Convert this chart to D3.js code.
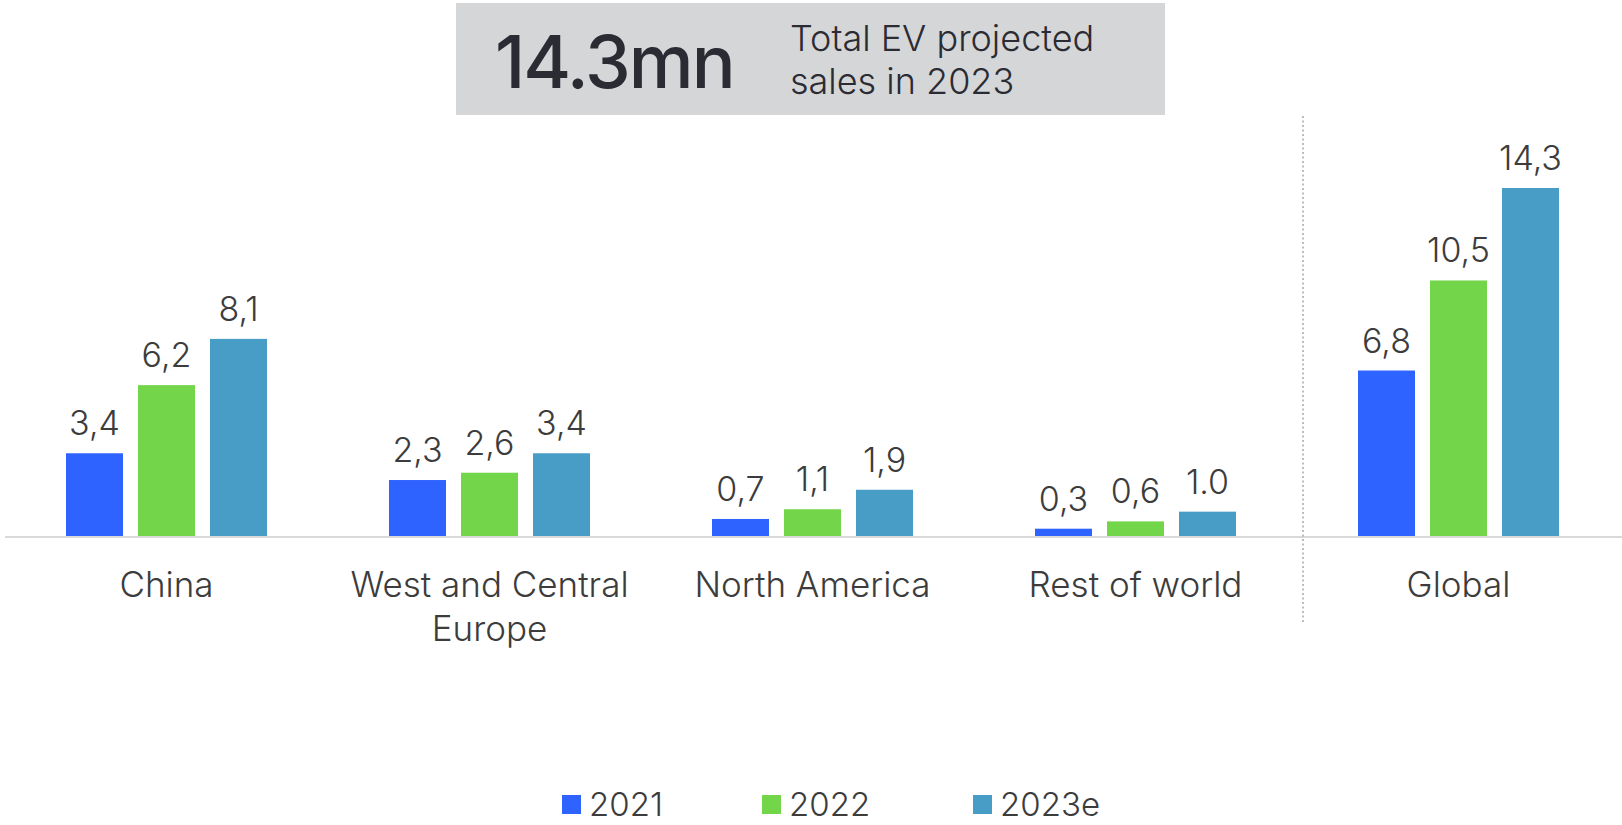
<!DOCTYPE html>
<html><head><meta charset="utf-8">
<script src="https://cdn.jsdelivr.net/npm/d3@7"></script>
<style>
html,body{margin:0;padding:0;background:#fff;}
svg{display:block;font-family:Inter,"Open Sans",sans-serif;}
</style></head>
<body><svg id="c" width="1622" height="825"></svg>
<script>
const categories = ["China", "West and Central|Europe", "North America", "Rest of world", "Global"];
const seriesNames = ["2021", "2022", "2023e"];
const values2021 = [3.4, 2.3, 0.7, 0.3, 6.8];
const values2022 = [6.2, 2.6, 1.1, 0.6, 10.5];
const values2023 = [8.1, 3.4, 1.9, 1.0, 14.3];
const labels2021 = ["3,4", "2,3", "0,7", "0,3", "6,8"];
const labels2022 = ["6,2", "2,6", "1,1", "0,6", "10,5"];
const labels2023 = ["8,1", "3,4", "1,9", "1.0", "14,3"];
const colors = ["#2f63ff", "#73d64a", "#489dc6"];
const headline = "14.3mn";
const headlineSub = ["Total EV projected", "sales in 2023"];

const series = [values2021, values2022, values2023];
const seriesLabels = [labels2021, labels2022, labels2023];

const svg = d3.select("#c");
const baseY = 536;
const groupW = 201;
const x0 = d3.scaleBand().domain(categories).range([5, 1620]).paddingInner(0).paddingOuter(0);
const x1 = d3.scaleBand().domain(seriesNames).range([0, groupW]).paddingInner(0.2083).paddingOuter(0);
const y = d3.scaleLinear().domain([0, 14.3]).range([baseY, 188]);

// header box
svg.append("rect").attr("x", 456).attr("y", 3).attr("width", 709).attr("height", 112).attr("fill", "#d5d6d8");
svg.append("text").attr("x", 495).attr("y", 88).attr("font-size", 73).attr("font-weight", 500)
  .attr("fill", "#2b2b33").attr("letter-spacing", -2).text(headline);
headlineSub.forEach((t, i) => {
  svg.append("text").attr("x", 790).attr("y", 51 + i * 43).attr("font-size", 36).attr("font-weight", 300)
    .attr("fill", "#2b2b33").text(t);
});

// baseline
svg.append("line").attr("x1", 5).attr("x2", 1622).attr("y1", baseY + 1).attr("y2", baseY + 1)
  .attr("stroke", "#d9d9d9").attr("stroke-width", 2);

// divider
const divX = x0("Global") + 6;
svg.append("line").attr("x1", divX).attr("x2", divX).attr("y1", 116).attr("y2", 623)
  .attr("stroke", "#a8a8a8").attr("stroke-width", 1.5).attr("stroke-dasharray", "2,2.5");

const groups = svg.selectAll("g.grp").data(categories).enter().append("g")
  .attr("transform", d => `translate(${x0(d) + (x0.bandwidth() - groupW) / 2},0)`);

groups.each(function(cat, ci) {
  const g = d3.select(this);
  seriesNames.forEach((s, si) => {
    const v = series[si][ci];
    g.append("rect").attr("x", x1(s)).attr("width", x1.bandwidth())
      .attr("y", y(v)).attr("height", baseY - y(v)).attr("fill", colors[si]);
    g.append("text").attr("x", x1(s) + x1.bandwidth() / 2).attr("y", y(v) - 18)
      .attr("text-anchor", "middle").attr("font-size", 34).attr("font-weight", 300)
      .attr("fill", "#3c3c3c").text(seriesLabels[si][ci]);
  });
});

// category labels
categories.forEach(c => {
  const lines = c.split("|");
  lines.forEach((l, i) => {
    svg.append("text").attr("x", x0(c) + x0.bandwidth() / 2).attr("y", 597 + i * 44)
      .attr("text-anchor", "middle").attr("font-size", 35).attr("font-weight", 300)
      .attr("fill", "#3c3c3c").text(l);
  });
});

// legend
const legX = [562, 762, 973];
seriesNames.forEach((s, i) => {
  svg.append("rect").attr("x", legX[i]).attr("y", 795).attr("width", 19).attr("height", 19).attr("fill", colors[i]);
  svg.append("text").attr("x", legX[i] + 27).attr("y", 816).attr("font-size", 33).attr("font-weight", 300)
    .attr("fill", "#3c3c3c").text(s);
});
</script></body></html>
